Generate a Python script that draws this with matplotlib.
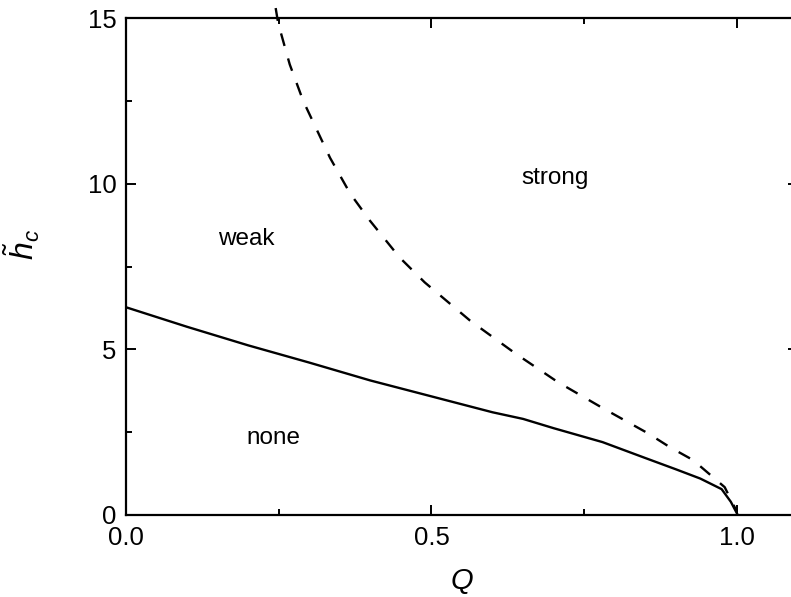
import matplotlib
matplotlib.use("Agg")
import matplotlib.pyplot as plt
from matplotlib.ticker import MultipleLocator, FormatStrFormatter

plt.rcParams["font.family"] = ["Liberation Sans", "DejaVu Sans"]
plt.rcParams["mathtext.fontset"] = "custom"
plt.rcParams["mathtext.rm"] = "Liberation Sans"
plt.rcParams["mathtext.it"] = "Liberation Sans:italic"

# Lower boundary (none / weak)
q_lower = [0.0, 0.1, 0.2, 0.3, 0.4, 0.5, 0.6, 0.65, 0.7, 0.78, 0.85, 0.9, 0.94, 0.975, 0.99, 1.0]
h_lower = [6.27, 5.68, 5.12, 4.6, 4.06, 3.58, 3.1, 2.9, 2.62, 2.2, 1.72, 1.38, 1.1, 0.78, 0.4, 0.05]

# Upper boundary (weak / strong)
q_upper = [0.245, 0.249, 0.268, 0.29, 0.313, 0.334, 0.367, 0.399, 0.448, 0.489,
           0.563, 0.637, 0.707, 0.781, 0.854, 0.89, 0.928, 0.961, 0.98, 1.0]
h_upper = [15.3, 14.85, 13.6, 12.5, 11.6, 10.78, 9.7, 8.89, 7.77, 7.02,
           5.87, 4.88, 4.01, 3.22, 2.47, 2.05, 1.66, 1.14, 0.84, 0.1]

region_names = ["weak", "strong", "none"]
region_q = [0.197, 0.702, 0.242]
region_h = [8.34, 10.18, 2.32]

fig = plt.figure(figsize=(7.91, 5.97), dpi=100)
ax = fig.add_axes([126 / 791, 82 / 597, (798 - 126) / 791, (515 - 18) / 597])

ax.plot(q_lower, h_lower, color="black", lw=1.7)
ax.plot(q_upper, h_upper, color="black", lw=1.7, linestyle=(0, (5.5, 5.5)), clip_on=False)

for name, q, h in zip(region_names, region_q, region_h):
    ax.text(q, h, name, ha="center", va="center", fontsize=17.5)

ax.set_xlim(0, 1.1)
ax.set_ylim(0, 15)
ax.xaxis.set_major_locator(MultipleLocator(0.5))
ax.xaxis.set_minor_locator(MultipleLocator(0.25))
ax.yaxis.set_major_locator(MultipleLocator(5))
ax.yaxis.set_minor_locator(MultipleLocator(2.5))
ax.xaxis.set_major_formatter(FormatStrFormatter("%.1f"))
ax.yaxis.set_major_formatter(FormatStrFormatter("%d"))

ax.tick_params(which="both", direction="in", top=True, right=True, width=1.4)
ax.tick_params(which="major", length=7.5, labelsize=18.5)
ax.tick_params(axis="x", which="major", pad=8)
ax.tick_params(axis="y", which="major", pad=7)
ax.tick_params(which="minor", length=4.5)
for s in ax.spines.values():
    s.set_linewidth(1.6)

ax.set_xlabel(r"$Q$", fontsize=21, labelpad=12)
ax.set_ylabel(r"$\tilde{h}_c$", fontsize=23, labelpad=22)
ax.yaxis.set_label_coords(-0.125, 0.545)

fig.savefig("out.png", dpi=100)
